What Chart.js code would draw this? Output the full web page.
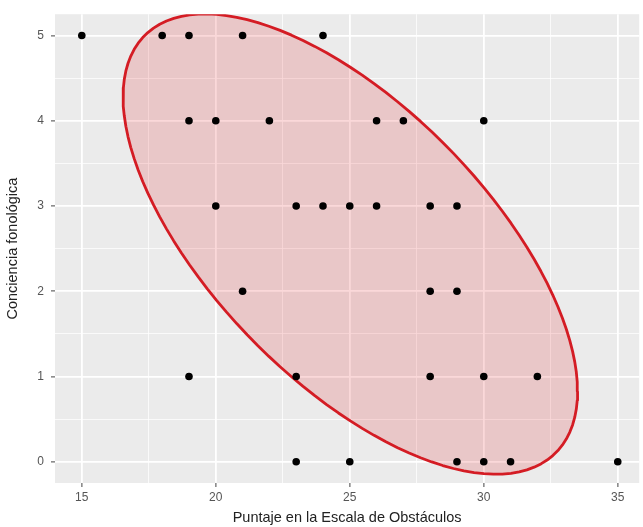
<!DOCTYPE html>
<html>
<head>
<meta charset="utf-8">
<script src="https://cdn.jsdelivr.net/npm/chart.js@4/dist/chart.umd.min.js"></script>
<style>
  html, body { margin: 0; padding: 0; background: #ffffff; }
  #wrap { width: 643px; height: 527px; }
</style>
</head>
<body>
<div id="wrap"><canvas id="c" width="643" height="527"></canvas></div>
<script>
// Scores per child: obstacle scale (x) and phonological awareness (y)
const puntajeObstaculos = [
  15, 18, 19, 21, 24,
  19, 20, 22, 26, 27, 30,
  20, 23, 24, 25, 26, 28, 29,
  21, 28, 29,
  19, 23, 28, 30, 32,
  23, 25, 29, 30, 31, 35
];
const concienciaFonologica = [
  5, 5, 5, 5, 5,
  4, 4, 4, 4, 4, 4,
  3, 3, 3, 3, 3, 3, 3,
  2, 2, 2,
  1, 1, 1, 1, 1,
  0, 0, 0, 0, 0, 0
];

// Axis breaks (major labelled, minor unlabelled)
const xTicks = [15, 17.5, 20, 22.5, 25, 27.5, 30, 32.5, 35];
const yTicks = [0, 0.5, 1, 1.5, 2, 2.5, 3, 3.5, 4, 4.5, 5];
const xMajor = [15, 20, 25, 30, 35];
const yMajor = [0, 1, 2, 3, 4, 5];

// Confidence ellipse: centre, half-extents along x and y, and correlation
const elipseCentro = [25.02, 2.553];
const elipseSemiejes = [8.48, 2.70];
const elipseCorrelacion = -0.64;
const elipseSegmentos = 120;

function ellipsePoints(center, half, rho, segments) {
  const s = Math.sqrt(1 - rho * rho);
  const pts = [];
  for (let k = 0; k <= segments; k++) {
    const t = k * 2 * Math.PI / segments;
    pts.push({
      x: center[0] + half[0] * Math.cos(t),
      y: center[1] + half[1] * (rho * Math.cos(t) + s * Math.sin(t))
    });
  }
  return pts;
}

const puntos = puntajeObstaculos.map((x, i) => ({ x: x, y: concienciaFonologica[i] }));
const elipse = ellipsePoints(elipseCentro, elipseSemiejes, elipseCorrelacion, elipseSegmentos);

const panelBackground = {
  id: 'panelBackground',
  beforeDraw(chart) {
    const { ctx, chartArea } = chart;
    ctx.save();
    ctx.fillStyle = '#EBEBEB';
    ctx.fillRect(chartArea.left, chartArea.top, chartArea.right - chartArea.left, chartArea.bottom - chartArea.top);
    ctx.restore();
  }
};

const isMajor = (list, v) => list.some(m => Math.abs(m - v) < 1e-9);

new Chart(document.getElementById('c'), {
  type: 'scatter',
  data: {
    datasets: [
      {
        type: 'line',
        data: elipse,
        showLine: true,
        tension: 0,
        pointRadius: 0,
        borderColor: '#D41C24',
        borderWidth: 2.8,
        borderJoinStyle: 'round',
        backgroundColor: 'rgba(228, 26, 28, 0.17)',
        fill: 'shape',
        order: 1
      },
      {
        data: puntos,
        pointRadius: 3.8,
        pointHoverRadius: 3.8,
        pointBackgroundColor: '#000000',
        pointBorderWidth: 0,
        order: 0
      }
    ]
  },
  plugins: [panelBackground],
  options: {
    responsive: false,
    animation: false,
    events: [],
    layout: { padding: { top: 11, left: 0, right: 0, bottom: 0 } },
    plugins: { legend: { display: false }, tooltip: { enabled: false } },
    scales: {
      x: {
        type: 'linear',
        min: 14,
        max: 35.8,
        afterBuildTicks(scale) { scale.ticks = xTicks.map(v => ({ value: v })); },
        afterFit(scale) { scale.height = 44; },
        border: { display: false },
        grid: {
          color: ctx => ctx.tick && isMajor(xMajor, ctx.tick.value) ? '#FFFFFF' : 'rgba(255,255,255,0.85)',
          lineWidth: ctx => ctx.tick && isMajor(xMajor, ctx.tick.value) ? 1.8 : 0.9,
          tickColor: ctx => ctx.tick && isMajor(xMajor, ctx.tick.value) ? '#444444' : 'rgba(0,0,0,0)',
          tickLength: 4,
          tickWidth: 1
        },
        ticks: {
          autoSkip: false,
          maxRotation: 0,
          padding: 3,
          color: '#555555',
          font: { family: 'Liberation Sans', size: 12 },
          callback: v => isMajor(xMajor, v) ? String(v) : ''
        },
        title: {
          display: true,
          text: 'Puntaje en la Escala de Obstáculos',
          color: '#222222',
          font: { family: 'Liberation Sans', size: 14.5 },
          padding: { top: 0, bottom: 0 }
        }
      },
      y: {
        type: 'linear',
        min: -0.25,
        max: 5.25,
        afterBuildTicks(scale) { scale.ticks = yTicks.map(v => ({ value: v })); },
        afterFit(scale) { scale.width = 55; },
        border: { display: false },
        grid: {
          color: ctx => ctx.tick && isMajor(yMajor, ctx.tick.value) ? '#FFFFFF' : 'rgba(255,255,255,0.85)',
          lineWidth: ctx => ctx.tick && isMajor(yMajor, ctx.tick.value) ? 1.8 : 0.9,
          tickColor: ctx => ctx.tick && isMajor(yMajor, ctx.tick.value) ? '#444444' : 'rgba(0,0,0,0)',
          tickLength: 4,
          tickWidth: 1
        },
        ticks: {
          autoSkip: false,
          padding: 7,
          color: '#555555',
          font: { family: 'Liberation Sans', size: 12 },
          callback: v => isMajor(yMajor, v) ? String(v) : ''
        },
        title: {
          display: true,
          text: 'Conciencia fonológica',
          color: '#222222',
          font: { family: 'Liberation Sans', size: 14.5 },
          padding: { top: 4, bottom: 0 }
        }
      }
    }
  }
});
</script>
</body>
</html>
